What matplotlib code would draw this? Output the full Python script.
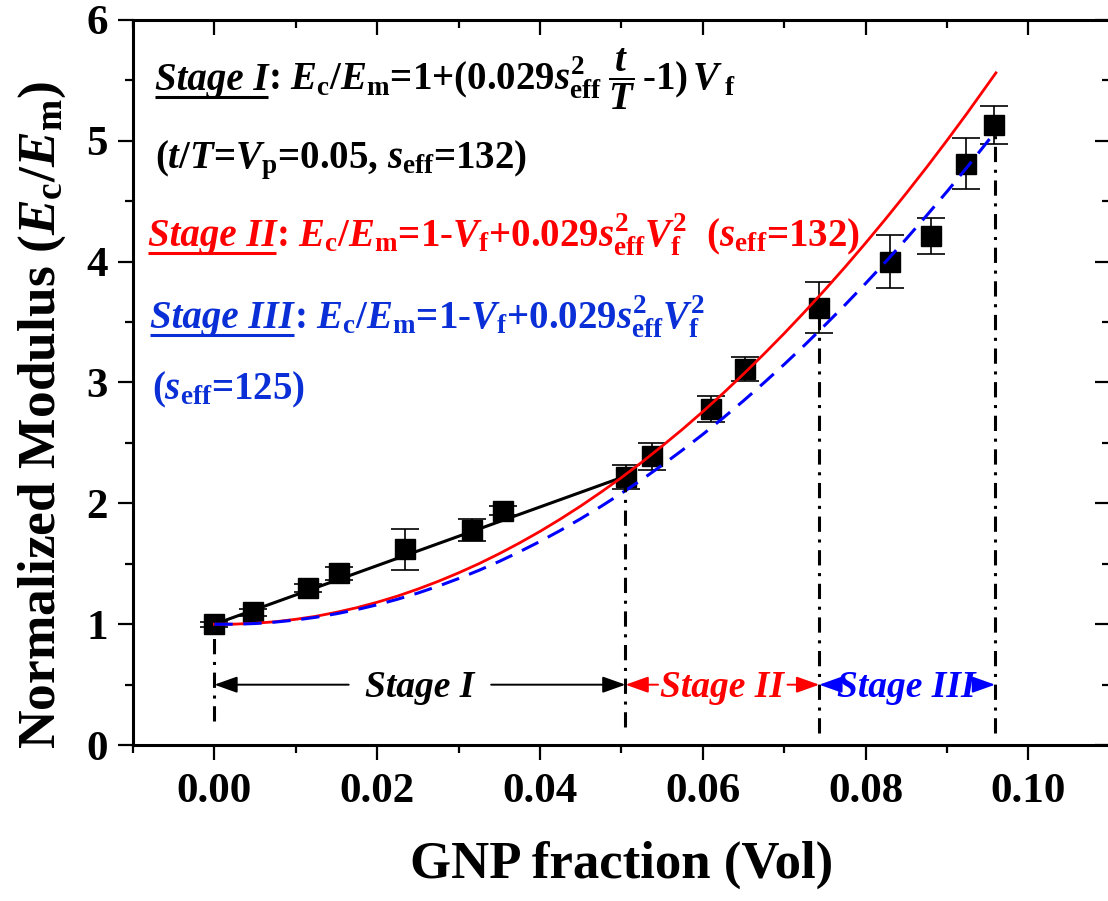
import numpy as np
import matplotlib
matplotlib.use('Agg')
import matplotlib.pyplot as plt
from matplotlib.ticker import MultipleLocator, FormatStrFormatter

plt.rcParams['font.family'] = 'Liberation Serif'
plt.rcParams['font.weight'] = 'bold'
plt.rcParams['axes.labelweight'] = 'bold'
plt.rcParams['mathtext.fontset'] = 'custom'
plt.rcParams['mathtext.rm'] = 'Liberation Serif:bold'
plt.rcParams['mathtext.it'] = 'Liberation Serif:italic:bold'
plt.rcParams['mathtext.bf'] = 'Liberation Serif:bold'

########
# Data #
########

gnp_vol = [0.0, 0.0047, 0.0115, 0.0153, 0.0234, 0.0317, 0.0355, 0.0506,
           0.0538, 0.0610, 0.0652, 0.0743, 0.0830, 0.0880, 0.0923, 0.0958]
modulus = [1.00, 1.10, 1.30, 1.42, 1.62, 1.78, 1.94, 2.22,
           2.39, 2.78, 3.11, 3.62, 4.00, 4.21, 4.81, 5.13]
modulus_err = [0.02, 0.03, 0.03, 0.05, 0.17, 0.09, 0.04, 0.10,
               0.11, 0.11, 0.10, 0.21, 0.22, 0.15, 0.21, 0.16]

# stage I fit (straight line)
fit1_x = [0.0, 0.0505]
fit1_y = [1.00, 2.225]

# stage II / III fit curves
fit_x = [0.0, 0.0025, 0.005, 0.0075, 0.01, 0.0125, 0.015, 0.0175, 0.02, 0.0225,
         0.025, 0.0275, 0.03, 0.0325, 0.035, 0.0375, 0.04, 0.0425, 0.045, 0.0475,
         0.05, 0.0525, 0.055, 0.0575, 0.06, 0.0625, 0.065, 0.0675, 0.07, 0.0725,
         0.075, 0.0775, 0.08, 0.0825, 0.085, 0.0875, 0.09, 0.0925, 0.096]
fit2_y = [1.000, 1.001, 1.008, 1.021, 1.041, 1.066, 1.099, 1.137, 1.182, 1.233,
          1.291, 1.355, 1.425, 1.501, 1.584, 1.673, 1.768, 1.870, 1.978, 2.093,
          2.213, 2.340, 2.474, 2.613, 2.759, 2.911, 3.070, 3.235, 3.406, 3.584,
          3.767, 3.957, 4.154, 4.357, 4.566, 4.781, 5.003, 5.231, 5.561]
fit3_y = [1.000, 1.000, 1.006, 1.018, 1.035, 1.058, 1.087, 1.121, 1.161, 1.207,
          1.258, 1.315, 1.378, 1.446, 1.520, 1.600, 1.685, 1.776, 1.873, 1.975,
          2.083, 2.196, 2.316, 2.441, 2.571, 2.707, 2.849, 2.997, 3.150, 3.309,
          3.474, 3.644, 3.820, 4.001, 4.189, 4.382, 4.580, 4.784, 5.080]

# stage boundaries (vertical dash-dot lines)
stage_bounds = [0.0, 0.0505, 0.0743, 0.0959]
bound_bottom = [0.20, 0.15, 0.10, 0.10]
bound_top = [0.93, 2.18, 3.55, 5.05]

FS_NOTE = 28
FS_STAGE = 27
BLUE_TXT = '#0a2fd6'

##########
# Figure #
##########

fig = plt.figure(figsize=(11.08, 9.01), dpi=100)
ax = fig.add_axes([0.120, 0.173, 0.8817, 0.805])

ax.errorbar(gnp_vol, modulus, yerr=modulus_err, fmt='s', color='black',
            ms=14, elinewidth=1.2, capsize=10, capthick=1.2, zorder=2)
ax.plot(fit1_x, fit1_y, '-', color='black', lw=2.2, zorder=3)
ax.plot(fit_x, fit2_y, '-', color='red', lw=2.0, zorder=3)
ax.plot(fit_x, fit3_y, '--', color='blue', lw=2.2, dashes=(6, 3.5), zorder=3)

for xb, y0, y1 in zip(stage_bounds, bound_bottom, bound_top):
    ax.plot([xb, xb], [y0, y1], color='black', lw=2.2,
            linestyle=(0, (5, 2.5, 1, 2.5)), zorder=3)

ax.set_xlim(-0.01, 0.11)
ax.set_ylim(0, 6)
ax.xaxis.set_major_locator(MultipleLocator(0.02))
ax.xaxis.set_minor_locator(MultipleLocator(0.01))
ax.xaxis.set_major_formatter(FormatStrFormatter('%.2f'))
ax.yaxis.set_major_locator(MultipleLocator(1))
ax.yaxis.set_minor_locator(MultipleLocator(0.5))
ax.tick_params(which='both', direction='out', width=1.6, labelsize=31)
ax.tick_params(which='major', length=11)
ax.tick_params(which='minor', length=5.5)
ax.tick_params(axis='x', pad=9)
ax.tick_params(axis='y', pad=7)
for sp in ax.spines.values():
    sp.set_linewidth(2.2)

# mirrored ticks pointing inside on top and right
sec_x = ax.secondary_xaxis('top')
sec_x.xaxis.set_major_locator(MultipleLocator(0.02))
sec_x.xaxis.set_minor_locator(MultipleLocator(0.01))
sec_x.tick_params(which='both', direction='in', width=1.6, labeltop=False)
sec_x.tick_params(which='major', length=11)
sec_x.tick_params(which='minor', length=5.5)
sec_y = ax.secondary_yaxis('right')
sec_y.yaxis.set_major_locator(MultipleLocator(1))
sec_y.yaxis.set_minor_locator(MultipleLocator(0.5))
sec_y.tick_params(which='both', direction='in', width=1.6, labelright=False)
sec_y.tick_params(which='major', length=11)
sec_y.tick_params(which='minor', length=5.5)

ax.set_xlabel('GNP fraction (Vol)', fontsize=38, fontweight='bold')
ax.xaxis.set_label_coords(0.5, -0.165)
ax.xaxis.label.set_verticalalignment('center')
ax.set_ylabel(r'Normalized Modulus ($E_{\rm c}/E_{\rm m}$)', fontsize=38.5,
              fontweight='bold')
ax.yaxis.set_label_coords(-0.093, 0.455)
ax.yaxis.label.set_verticalalignment('center')

#################
# Equation text #
#################

renderer = fig.canvas.get_renderer()
inv = ax.transAxes.inverted()


def stage_line(x, y, label, formula, color):
    t = ax.text(x, y, label, transform=ax.transAxes, fontsize=FS_NOTE,
                style='italic', color=color, ha='left', va='baseline')
    bb = t.get_window_extent(renderer=renderer)
    x1 = inv.transform((bb.x1, bb.y0))[0]
    ax.plot([x, x1], [y - 0.010, y - 0.010], transform=ax.transAxes,
            color=color, lw=2.2, solid_capstyle='butt', clip_on=False)
    ax.text(x1, y, formula, transform=ax.transAxes, fontsize=FS_NOTE,
            color=color, ha='left', va='baseline')


stage_line(0.0225, 0.903, 'Stage I',
           r': $E_{\rm c}/E_{\rm m}$=1+(0.029$s^{2}_{\rm eff}\;\dfrac{t}{T}\,$-1)$\,V_{\;\rm f}$',
           'black')
ax.text(0.0225, 0.795, r'($t/T$=$V_{\rm p}$=0.05, $s_{\rm eff}$=132)',
        transform=ax.transAxes, fontsize=FS_NOTE, ha='left', va='baseline')
stage_line(0.015, 0.688, 'Stage II',
           r': $E_{\rm c}/E_{\rm m}$=1-$V_{\rm f}$+0.029$s^{2}_{\rm eff}V^{2}_{\rm f}$  ($s_{\rm eff}$=132)',
           'red')
stage_line(0.0175, 0.575, 'Stage III',
           r': $E_{\rm c}/E_{\rm m}$=1-$V_{\rm f}$+0.029$s^{2}_{\rm eff}V^{2}_{\rm f}$',
           BLUE_TXT)
ax.text(0.019, 0.477, r'($s_{\rm eff}$=125)', transform=ax.transAxes,
        fontsize=FS_NOTE, color=BLUE_TXT, ha='left', va='baseline')

################
# Stage arrows #
################

stage_names = ['Stage I', 'Stage II', 'Stage III']
stage_colors = ['black', 'red', 'blue']
stage_centers = [0.0252, 0.0624, 0.0850]
arrow_starts_left = [0.0165, 0.0545, 0.0769]
arrow_starts_right = [0.0340, 0.0704, 0.0937]

for i in range(3):
    c = stage_colors[i]
    ax.text(stage_centers[i], 0.40, stage_names[i], fontsize=FS_STAGE,
            style='italic', color=c, ha='center', va='baseline')
    props = dict(arrowstyle='-|>,head_length=0.7,head_width=0.25', color=c,
                 lw=1.4, mutation_scale=20, shrinkA=0, shrinkB=0)
    ax.annotate('', xy=(stage_bounds[i], 0.5), xytext=(arrow_starts_left[i], 0.5),
                arrowprops=props)
    ax.annotate('', xy=(stage_bounds[i + 1], 0.5), xytext=(arrow_starts_right[i], 0.5),
                arrowprops=props)

fig.savefig('out.png', dpi=100)
